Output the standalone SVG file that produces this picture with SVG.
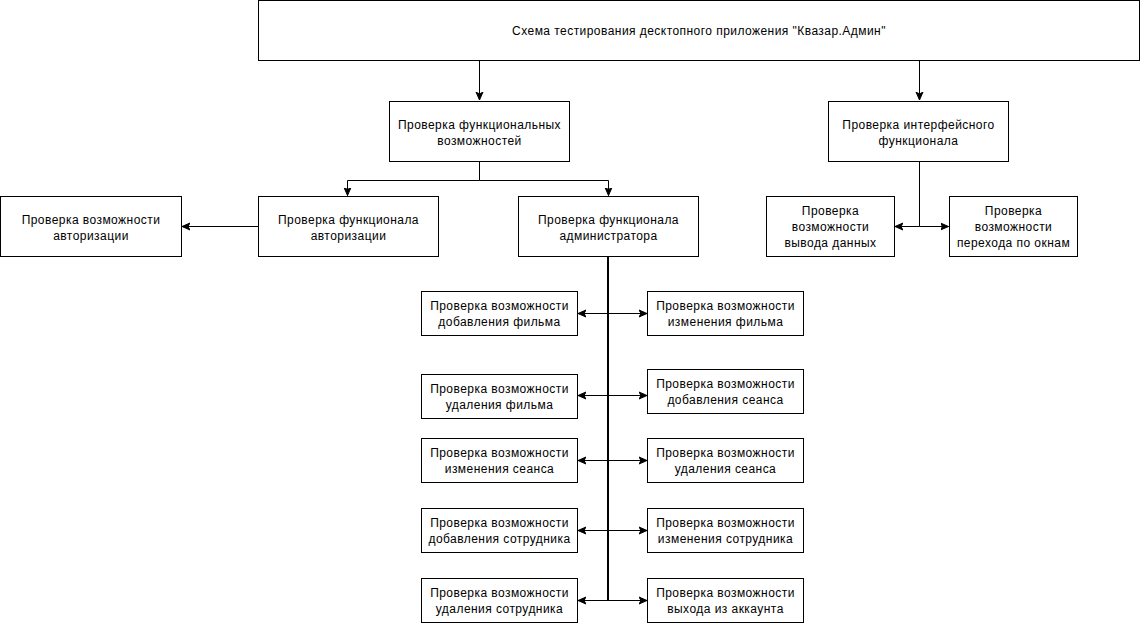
<svg xmlns="http://www.w3.org/2000/svg" width="1141" height="623" viewBox="0 0 1141 623">
<defs>
<marker id="arr" markerUnits="userSpaceOnUse" markerWidth="10" markerHeight="10" viewBox="0 0 10 10" refX="8" refY="5" orient="auto">
<path d="M0,1.5 L8,5 L0,8.5 L2,5 Z" fill="#000" stroke="#000" stroke-width="1"/>
</marker>
<style>
.box{fill:#fff;stroke:#000;stroke-width:1}
.t{font-family:"Liberation Sans",Arial,sans-serif;font-size:12px;letter-spacing:0.45px;fill:#000;text-anchor:middle}
.c{fill:none;stroke:#000;stroke-width:1}
.ca{fill:none;stroke:#000;stroke-width:1;marker-end:url(#arr)}
.trunk{fill:none;stroke:#000;stroke-width:2}
</style>
</defs>
<rect width="1141" height="623" fill="#fff"/>
<g id="connectors">
<path class="ca" d="M479.5,61 V100"/>
<path class="ca" d="M919.5,61 V100"/>
<path class="c" d="M479.5,161 V180.5"/>
<path class="ca" d="M479.5,180.5 H347.5 V195.5"/>
<path class="ca" d="M479.5,180.5 H608.5 V195.5"/>
<path class="ca" d="M258,226.5 H182"/>
<path class="c" d="M919.5,161 V226.5"/>
<path class="ca" d="M919.5,226.5 H895"/>
<path class="ca" d="M919.5,226.5 H948.5"/>
<path class="trunk" d="M608,257 V600.5"/>
<path class="ca" d="M608,313.5 H578"/>
<path class="ca" d="M608,313.5 H647"/>
<path class="ca" d="M608,395.5 H578"/>
<path class="ca" d="M608,395.5 H647"/>
<path class="ca" d="M608,460.5 H578"/>
<path class="ca" d="M608,460.5 H647"/>
<path class="ca" d="M608,530.5 H578"/>
<path class="ca" d="M608,530.5 H647"/>
<path class="ca" d="M608,600.5 H578"/>
<path class="ca" d="M608,600.5 H647"/>
</g>
<g id="n-top"><rect class="box" x="258.5" y="0.5" width="881" height="60"/><text class="t" x="699" y="35">Схема тестирования десктопного приложения "Квазар.Админ"</text></g>
<g id="n-func"><rect class="box" x="389.5" y="101.5" width="180" height="60"/><text class="t" x="479.5" y="129">Проверка функциональных</text><text class="t" x="479.5" y="145">возможностей</text></g>
<g id="n-iface"><rect class="box" x="828.5" y="101.5" width="180" height="60"/><text class="t" x="918.5" y="129">Проверка интерфейсного</text><text class="t" x="918.5" y="145">функционала</text></g>
<g id="n-authpos"><rect class="box" x="0.5" y="196.5" width="181" height="60"/><text class="t" x="91" y="224">Проверка возможности</text><text class="t" x="91" y="240">авторизации</text></g>
<g id="n-auth"><rect class="box" x="258.5" y="196.5" width="180" height="60"/><text class="t" x="348.5" y="224">Проверка функционала</text><text class="t" x="348.5" y="240">авторизации</text></g>
<g id="n-admin"><rect class="box" x="518.5" y="196.5" width="180" height="60"/><text class="t" x="608.5" y="224">Проверка функционала</text><text class="t" x="608.5" y="240">администратора</text></g>
<g id="n-out"><rect class="box" x="766.5" y="196.5" width="128" height="60"/><text class="t" x="830.5" y="215">Проверка</text><text class="t" x="830.5" y="231">возможности</text><text class="t" x="830.5" y="247">вывода данных</text></g>
<g id="n-win"><rect class="box" x="949.5" y="196.5" width="128" height="60"/><text class="t" x="1013.5" y="215">Проверка</text><text class="t" x="1013.5" y="231">возможности</text><text class="t" x="1013.5" y="247">перехода по окнам</text></g>
<g id="n-addfilm"><rect class="box" x="421.5" y="291.5" width="156" height="44"/><text class="t" x="499.5" y="310">Проверка возможности</text><text class="t" x="499.5" y="326">добавления фильма</text></g>
<g id="n-editfilm"><rect class="box" x="647.5" y="291.5" width="156" height="44"/><text class="t" x="725.5" y="310">Проверка возможности</text><text class="t" x="725.5" y="326">изменения фильма</text></g>
<g id="n-delfilm"><rect class="box" x="421.5" y="374.5" width="156" height="44"/><text class="t" x="499.5" y="393">Проверка возможности</text><text class="t" x="499.5" y="409">удаления фильма</text></g>
<g id="n-addses"><rect class="box" x="647.5" y="369.5" width="156" height="44"/><text class="t" x="725.5" y="388">Проверка возможности</text><text class="t" x="725.5" y="404">добавления сеанса</text></g>
<g id="n-editses"><rect class="box" x="421.5" y="438.5" width="156" height="44"/><text class="t" x="499.5" y="457">Проверка возможности</text><text class="t" x="499.5" y="473">изменения сеанса</text></g>
<g id="n-delses"><rect class="box" x="647.5" y="438.5" width="156" height="44"/><text class="t" x="725.5" y="457">Проверка возможности</text><text class="t" x="725.5" y="473">удаления сеанса</text></g>
<g id="n-addemp"><rect class="box" x="421.5" y="508.5" width="156" height="44"/><text class="t" x="499.5" y="527">Проверка возможности</text><text class="t" x="499.5" y="543">добавления сотрудника</text></g>
<g id="n-editemp"><rect class="box" x="647.5" y="508.5" width="156" height="44"/><text class="t" x="725.5" y="527">Проверка возможности</text><text class="t" x="725.5" y="543">изменения сотрудника</text></g>
<g id="n-delemp"><rect class="box" x="421.5" y="578.5" width="156" height="44"/><text class="t" x="499.5" y="597">Проверка возможности</text><text class="t" x="499.5" y="613">удаления сотрудника</text></g>
<g id="n-logout"><rect class="box" x="647.5" y="578.5" width="156" height="44"/><text class="t" x="725.5" y="597">Проверка возможности</text><text class="t" x="725.5" y="613">выхода из аккаунта</text></g>
</svg>
